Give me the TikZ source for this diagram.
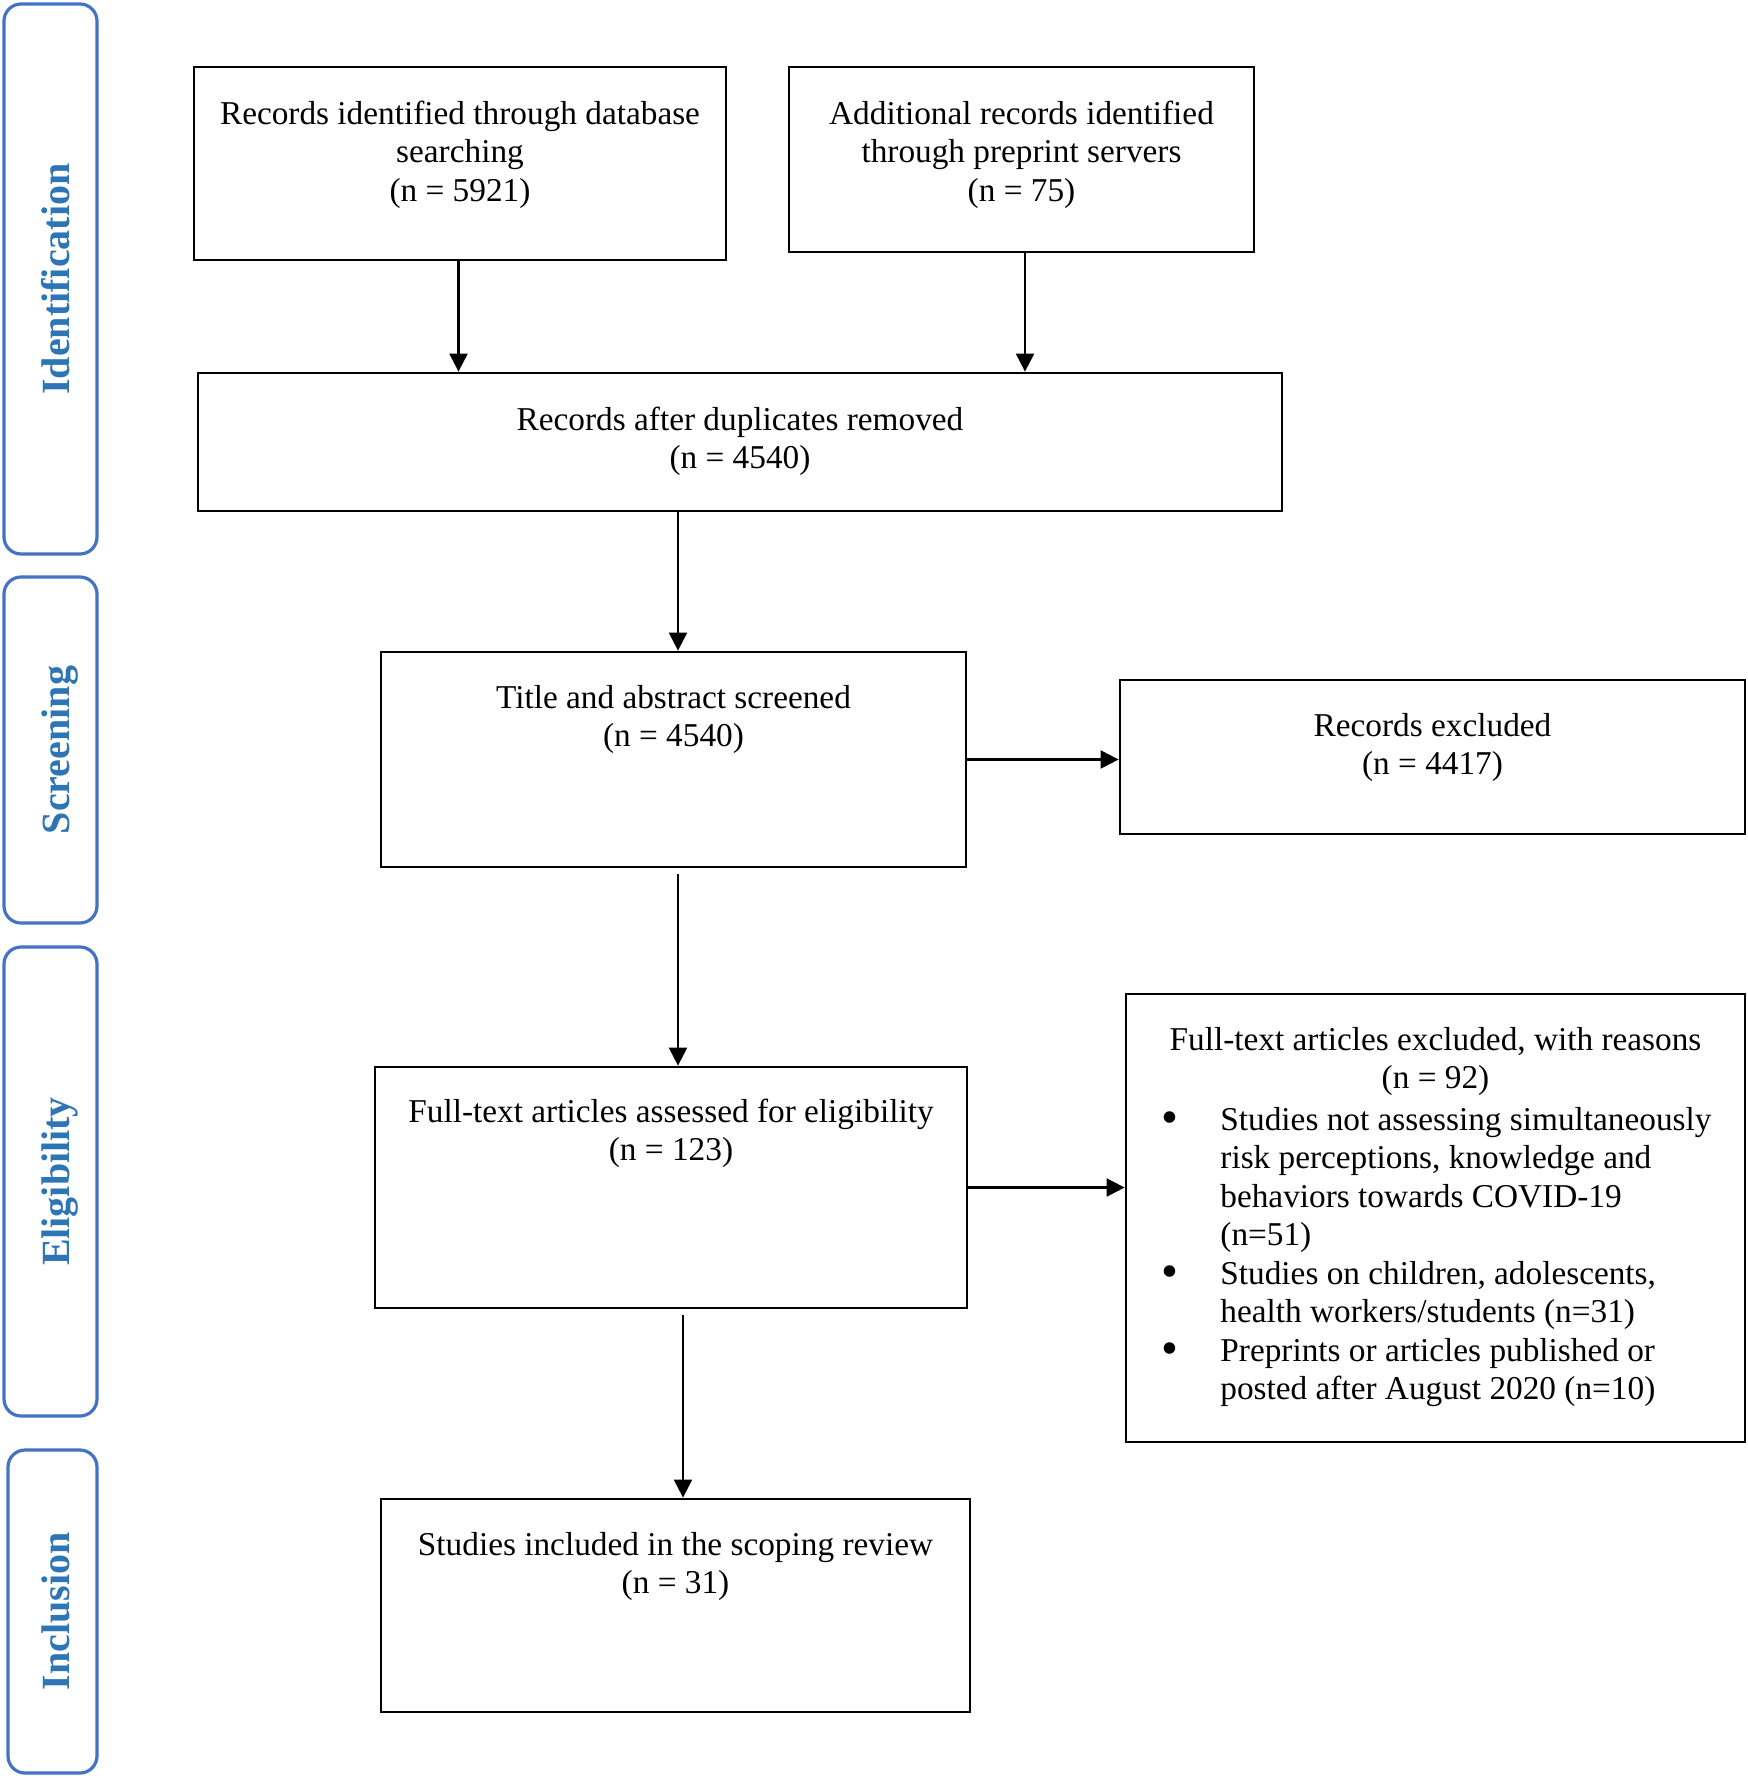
\documentclass[tikz,border=0pt]{standalone}
\usepackage{fontspec}
\setmainfont{Liberation Serif}
\usetikzlibrary{arrows.meta}
\definecolor{phaseblue}{RGB}{46,117,182}
\definecolor{phaseline}{RGB}{68,114,196}
\newcommand{\bigbul}{\makebox[29.5pt][l]{\raisebox{-0.25ex}{\scalebox{1.45}{\textbullet}}}}
\begin{document}
\begin{tikzpicture}[x=0.5pt,y=-0.5pt,
  box/.style={draw=black,line width=1.4pt,rectangle,inner sep=0pt},
  phase/.style={draw=phaseline,line width=1.6pt,rounded corners=8.5pt,rectangle,inner sep=0pt},
  phasetxt/.style={rotate=90,anchor=base,text=phaseblue,font=\fontsize{20}{24}\selectfont\bfseries,inner sep=0pt},
  txt/.style={anchor=base,align=center,inner sep=0pt,font=\fontsize{16.65}{19.25}\selectfont},
  arr/.style={line width=1.1pt,-{Triangle[length=9pt,width=9pt]}}]
\useasboundingbox (0,0) rectangle (1748,1778);
\fill[white] (0,0) rectangle (1748,1778);

% phase boxes
\node[phase,minimum width=46.5pt,minimum height=275pt] (ident) at (50.5,279) {};
\node[phase,minimum width=46.5pt,minimum height=173pt] (screen) at (50.5,750) {};
\node[phase,minimum width=46.5pt,minimum height=234.5pt] (elig) at (50.5,1181.5) {};
\node[phase,minimum width=44.5pt,minimum height=161.5pt] (incl) at (52.5,1611.5) {};
\node[phasetxt] (identt) at (69,279) {Identification};
\node[phasetxt] (screent) at (69,750) {Screening};
\node[phasetxt] (eligt) at (69,1181.5) {Eligibility};
\node[phasetxt] (inclt) at (69,1611.5) {Inclusion};

% boxes
\node[box,minimum width=266pt,minimum height=96.5pt] (db) at (460,163.5) {};
\node[box,minimum width=232.5pt,minimum height=92.5pt] (pre) at (1021.5,159.5) {};
\node[box,minimum width=542pt,minimum height=69pt] (dup) at (740,442) {};
\node[box,minimum width=292.5pt,minimum height=107.5pt] (tas) at (673.5,759.5) {};
\node[box,minimum width=312.5pt,minimum height=77pt] (rex) at (1432.5,757) {};
\node[box,minimum width=296pt,minimum height=120.5pt] (fta) at (671,1187.5) {};
\node[box,minimum width=309.5pt,minimum height=224pt] (fte) at (1435.5,1218) {};
\node[box,minimum width=294.5pt,minimum height=106.5pt] (inc) at (675.5,1605.5) {};

% texts (base anchor = baseline of the last line)
\node[txt] (dbt) at (460,201) {Records identified through database\\searching\\(n = 5921)};
\node[txt] (pret) at (1021.5,201) {Additional records identified\\through preprint servers\\(n = 75)};
\node[txt] (dupt) at (740,468.5) {Records after duplicates removed\\(n = 4540)};
\node[txt] (tast) at (673.5,746.5) {Title and abstract screened\\(n = 4540)};
\node[txt] (rext) at (1432.5,774.5) {Records excluded\\(n = 4417)};
\node[txt] (ftat) at (671,1160.5) {Full-text articles assessed for eligibility\\(n = 123)};
\node[txt] (ftet) at (1435.5,1088.5) {Full-text articles excluded, with reasons\\(n = 92)};
\node[txt,anchor=base west,align=left] (ftel) at (1161,1399.5) {%
\bigbul Studies not assessing simultaneously\\
\hspace*{29.5pt}risk perceptions, knowledge and\\
\hspace*{29.5pt}behaviors towards COVID-19\\
\hspace*{29.5pt}(n=51)\\
\bigbul Studies on children, adolescents,\\
\hspace*{29.5pt}health workers/students (n=31)\\
\bigbul Preprints or articles published or\\
\hspace*{29.5pt}posted after August 2020 (n=10)};
\node[txt] (inct) at (675.5,1593.5) {Studies included in the scoping review\\(n = 31)};

% connectors
\coordinate (c1) at ([xshift=-0.75pt]db.south);
\draw[arr] (c1) -- (c1 |- dup.north);
\coordinate (c2) at ([xshift=1.75pt]pre.south);
\draw[arr] (c2) -- (c2 |- dup.north);
\coordinate (c3) at ([xshift=2.25pt]tas.north);
\draw[arr] (c3 |- dup.south) -- (c3);
\coordinate (c4) at ([xshift=2.25pt,yshift=-3pt]tas.south);
\draw[arr] (c4) -- (c4 |- fta.north);
\draw[arr] (tas.east) -- (tas.east -| rex.west);
\draw[arr] (fta.east) -- (fta.east -| fte.west);
\coordinate (c5) at ([xshift=6pt,yshift=-3pt]fta.south);
\draw[arr] (c5) -- (c5 |- inc.north);
\end{tikzpicture}
\end{document}
